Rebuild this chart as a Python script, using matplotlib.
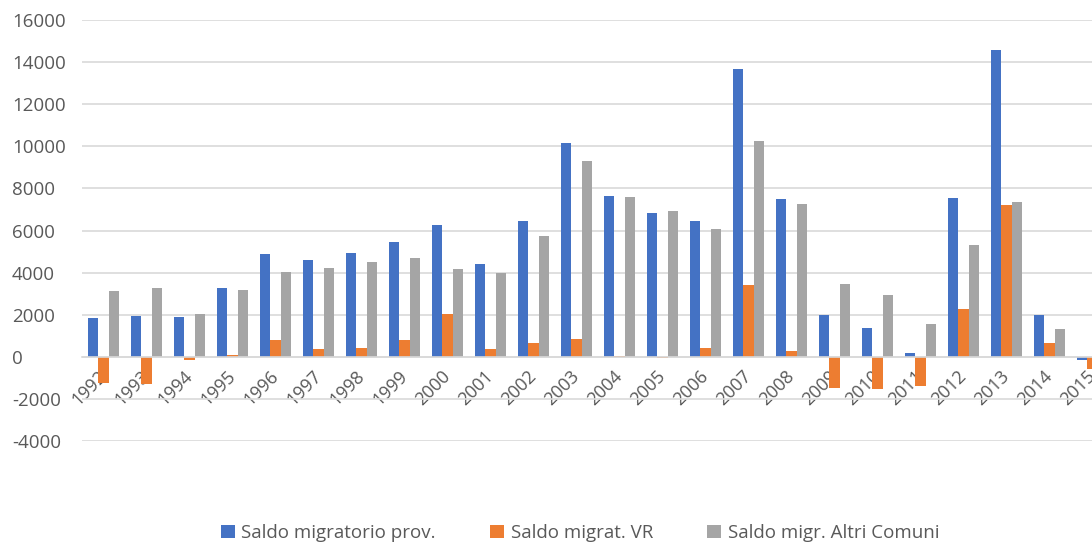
import numpy as np
import matplotlib
matplotlib.use("Agg")
import matplotlib.pyplot as plt

years = [str(y) for y in range(1992, 2016)]

saldo_prov = [1850, 1950, 1880, 3290, 4900, 4620, 4950, 5470, 6240, 4430, 6430, 10140,
              7620, 6850, 6470, 13670, 7520, 1980, 1350, 190, 7560, 14570, 1980, -150]
saldo_vr = [-1240, -1300, -170, 100, 810, 380, 430, 780, 2050, 380, 670, 860,
            20, -80, 430, 3400, 290, -1480, -1540, -1400, 2260, 7200, 670, -580]
saldo_altri = [3140, 3290, 2040, 3190, 4050, 4240, 4520, 4670, 4190, 4000, 5760, 9280,
               7570, 6950, 6050, 10240, 7240, 3480, 2920, 1570, 5300, 7370, 1300, 400]

labels = ["Saldo migratorio prov.", "Saldo migrat. VR", "Saldo migr. Altri Comuni"]
colors = ["#4472C4", "#ED7D31", "#A5A5A5"]

plt.rcParams["font.family"] = ["Open Sans", "DejaVu Sans"]
plt.rcParams["axes.unicode_minus"] = False

fig = plt.figure(figsize=(10.92, 5.43), dpi=100)
ax = fig.add_axes([82 / 1092, 1 - 441 / 543, 1032 / 1092, 421 / 543])

x = np.arange(len(years))
w = 0.245
for i, (vals, lab, col) in enumerate(zip([saldo_prov, saldo_vr, saldo_altri], labels, colors)):
    ax.bar(x + (i - 1) * w, vals, w, color=col, label=lab, zorder=2)

ax.set_xlim(-0.5, len(years) - 0.5)
ax.set_ylim(-4000, 16000)
ax.set_yticks(range(-4000, 16001, 2000))
ax.grid(axis="y", color="#D9D9D9", linewidth=1.2, zorder=0)

for s in ["top", "right", "left"]:
    ax.spines[s].set_visible(False)
ax.spines["bottom"].set_position(("data", 0))
ax.spines["bottom"].set_color("#D9D9D9")
ax.spines["bottom"].set_linewidth(1.2)

ax.set_xticks(x)
ax.set_xticklabels(years, rotation=45, ha="right", va="center", rotation_mode="anchor")
ax.tick_params(axis="x", length=0, pad=12, labelsize=13, labelcolor="#595959")
ax.tick_params(axis="y", length=0, pad=50.4, labelsize=13.5, labelcolor="#595959")
for t in ax.get_yticklabels():
    t.set_horizontalalignment("left")

fig.legend(loc="center", bbox_to_anchor=(580 / 1092, 1 - 533 / 543),
           bbox_transform=fig.transFigure,
           ncol=3, frameon=False, fontsize=13.5, labelcolor="#595959",
           handlelength=0.75, handleheight=0.75, handletextpad=0.35, columnspacing=2.9)

fig.savefig("out.png", dpi=100)
